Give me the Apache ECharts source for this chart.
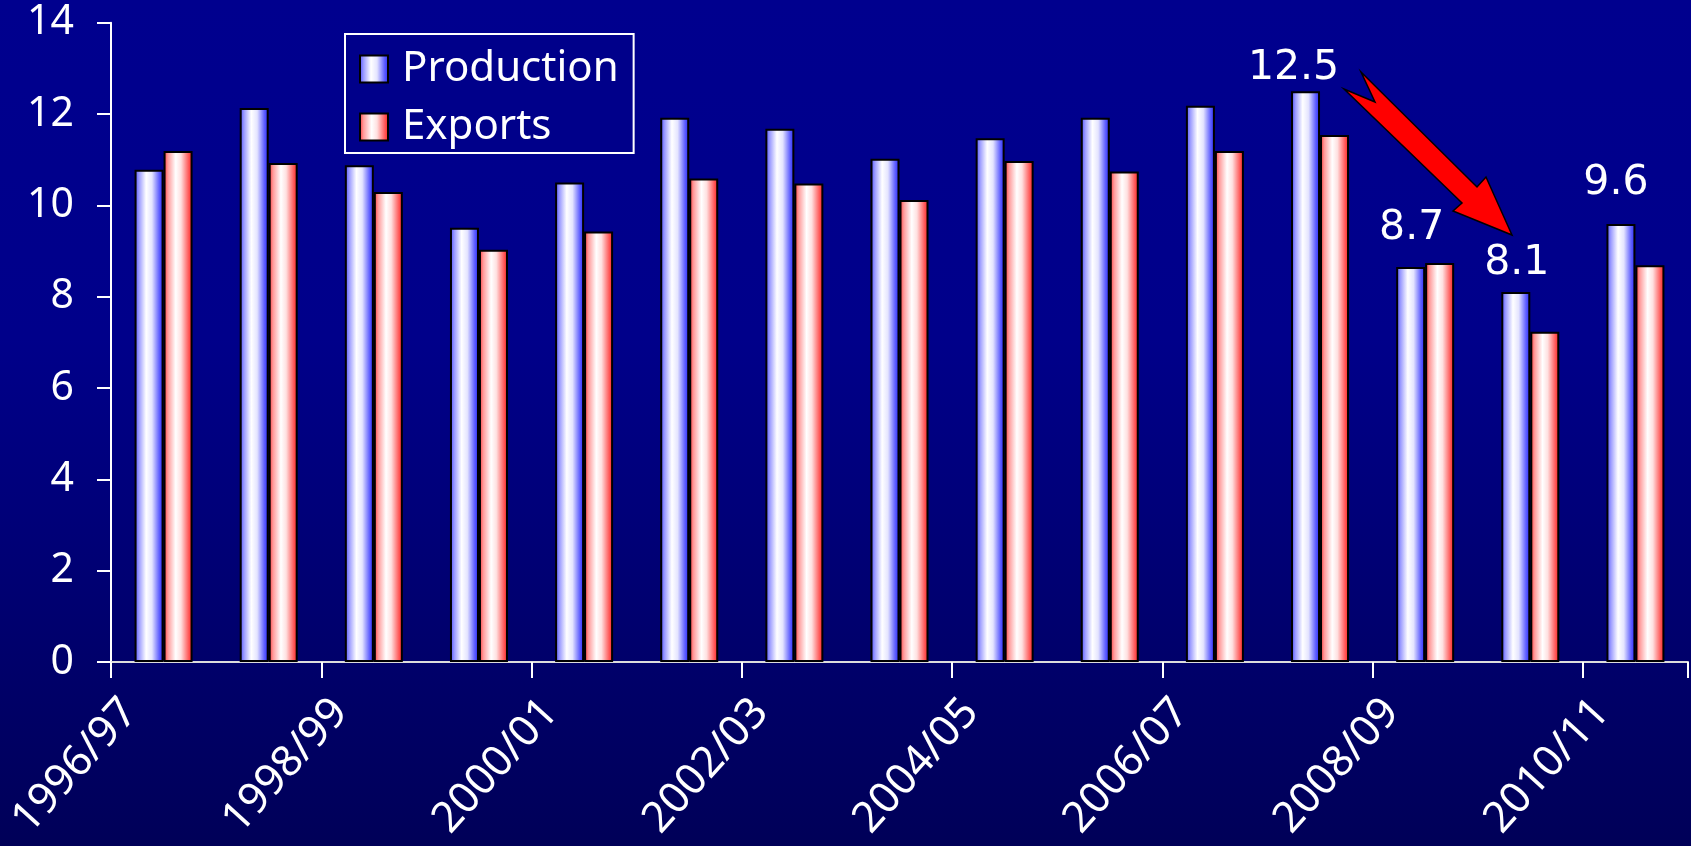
<!DOCTYPE html>
<html>
<head>
<meta charset="utf-8">
<script src="https://cdn.jsdelivr.net/npm/echarts@6/dist/echarts.min.js"></script>
<style>
html,body{margin:0;padding:0;width:1691px;height:846px;overflow:hidden;}
body{background:linear-gradient(to bottom,#00008e 0%,#00008a 40%,#000058 100%);}
#c{width:1691px;height:846px;}
</style>
</head>
<body>
<div id="c"></div>
<script>
const categories = ['1996/97','1997/98','1998/99','1999/00','2000/01','2001/02','2002/03','2003/04','2004/05','2005/06','2006/07','2007/08','2008/09','2009/10','2010/11'];
const production = [10.78, 12.13, 10.88, 9.51, 10.50, 11.92, 11.68, 11.02, 11.47, 11.92, 12.18, 12.50, 8.65, 8.10, 9.59];
const exportsData = [11.19, 10.93, 10.29, 9.03, 9.43, 10.59, 10.48, 10.12, 10.97, 10.74, 11.19, 11.54, 8.74, 7.23, 8.69];
const yTicks = [0, 2, 4, 6, 8, 10, 12, 14];
const labelled = {11: {distance: 2, offset: [-12, 0]}, 12: {distance: 18, offset: [1, 0]}, 13: {distance: 8, offset: [1, 0]}, 14: {distance: 20, offset: [-5, 0]}};

const blueGrad = new echarts.graphic.LinearGradient(0, 0, 1, 0, [
  {offset: 0, color: '#4a4aff'}, {offset: 0.15, color: '#9a9aff'}, {offset: 0.4, color: '#ffffff'},
  {offset: 0.6, color: '#e4e4ff'}, {offset: 0.85, color: '#6060ff'}, {offset: 1, color: '#2424ff'}
]);
const redGrad = new echarts.graphic.LinearGradient(0, 0, 1, 0, [
  {offset: 0, color: '#ff3030'}, {offset: 0.15, color: '#ff9a9a'}, {offset: 0.42, color: '#ffffff'},
  {offset: 0.6, color: '#ffe0e0'}, {offset: 0.85, color: '#ff6060'}, {offset: 1, color: '#ff1a1a'}
]);

const prodData = production.map((v, i) => {
  if (labelled[i]) {
    return {value: v, label: {show: true, position: 'top', distance: labelled[i].distance, offset: labelled[i].offset,
      formatter: p => p.value.toFixed(1), color: '#ffffff', fontFamily: 'DejaVu Sans', fontSize: 41}};
  }
  return v;
});

const chart = echarts.init(document.getElementById('c'), null, {renderer: 'canvas'});
const option = {
  backgroundColor: 'transparent',
  animation: false,
  grid: {left: 111, right: 3, top: 22.7, bottom: 184},
  legend: {
    orient: 'vertical', left: 345, top: 34,
    padding: [14, 15, 5, 14],
    itemWidth: 28, itemHeight: 27, itemGap: 16,
    icon: 'rect',
    backgroundColor: '#00008a',
    borderColor: '#ffffff', borderWidth: 2,
    textStyle: {color: '#ffffff', fontFamily: 'Noto Sans', fontSize: 42, padding: [0, 0, 0, 9]},
    data: ['Production', 'Exports']
  },
  xAxis: {
    type: 'category', data: categories,
    axisLine: {lineStyle: {color: '#dcdcdc', width: 2}},
    axisTick: {show: true, length: 16, lineStyle: {color: '#ffffff', width: 2}},
    axisLabel: {interval: 1, rotate: 48, margin: 6, padding: [0, 50, 0, 0], color: '#ffffff', fontFamily: 'Noto Sans', fontSize: 43}
  },
  yAxis: {
    type: 'value', min: yTicks[0], max: yTicks[yTicks.length - 1], interval: 2,
    splitLine: {show: false},
    axisLine: {show: true, lineStyle: {color: '#ffffff', width: 2}},
    axisTick: {show: true, length: 14, lineStyle: {color: '#ffffff', width: 2}},
    axisLabel: {margin: 37, color: '#ffffff', fontFamily: 'Noto Sans', fontSize: 41}
  },
  series: [
    {name: 'Production', type: 'bar', data: prodData, barWidth: 29, barGap: '0%',
      itemStyle: {color: blueGrad, borderColor: '#000000', borderWidth: 2}},
    {name: 'Exports', type: 'bar', data: exportsData, barWidth: 29, barGap: '0%',
      itemStyle: {color: redGrad, borderColor: '#000000', borderWidth: 2}}
  ],
  graphic: [{
    type: 'polygon', z: 100,
    shape: {points: [[1361, 72], [1477, 187], [1486, 177], [1512, 235], [1453, 211], [1462, 203], [1344, 89], [1375, 102]]},
    style: {fill: '#ff0000', stroke: '#000000', lineWidth: 1.5}
  }]
};
chart.setOption(option);
</script>
</body>
</html>
